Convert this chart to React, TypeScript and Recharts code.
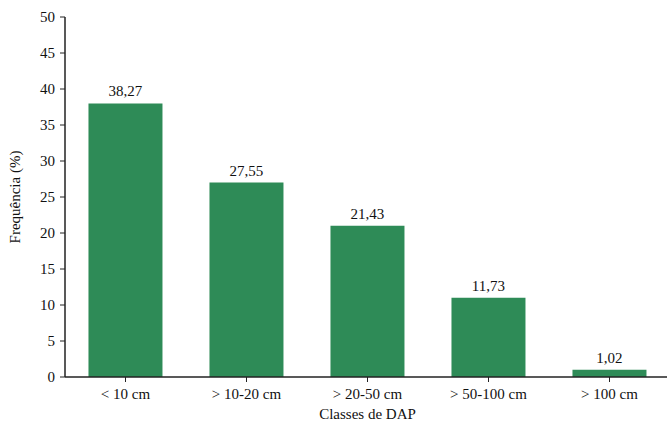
import React from "react";
import { BarChart, Bar, XAxis, YAxis, LabelList, Label } from "recharts";

const categories = ["< 10 cm", "> 10-20 cm", "> 20-50 cm", "> 50-100 cm", "> 100 cm"];
const barValues = [38, 27, 21, 11, 1];
const valueLabels = ["38,27", "27,55", "21,43", "11,73", "1,02"];
const yTicks = [0, 5, 10, 15, 20, 25, 30, 35, 40, 45, 50];

const data = categories.map((c, i) => ({ cat: c, value: barValues[i], label: valueLabels[i] }));

const FONT = "'Liberation Serif', 'Times New Roman', serif";
const AX = "#222";

export default function App() {
  return (
    <div style={{ position: "absolute", left: 0, top: 0, width: 667, height: 425, overflow: "hidden", background: "#fff" }}>
      <BarChart
        width={672}
        height={425}
        data={data}
        margin={{ top: 17, right: 2, bottom: 0, left: 0 }}
        barCategoryGap="19.4%"
        style={{ fontFamily: FONT }}
      >
        <XAxis
          dataKey="cat"
          height={48}
          stroke={AX}
          tickSize={5}
          tickMargin={6}
          tick={{ fill: "#111", fontSize: 15, fontFamily: FONT }}
          axisLine={{ stroke: AX, strokeWidth: 1.5 }}
        >
          <Label value="Classes de DAP" position="insideBottom" offset={6} style={{ fill: "#111", fontSize: 15, fontFamily: FONT }} />
        </XAxis>
        <YAxis
          width={65}
          domain={[0, 50]}
          ticks={yTicks}
          interval={0}
          stroke={AX}
          tickSize={5}
          tickMargin={5}
          tick={{ fill: "#111", fontSize: 15, fontFamily: FONT }}
          axisLine={{ stroke: AX, strokeWidth: 1.5 }}
        >
          <Label value="Frequência (%)" angle={-90} position="insideLeft" offset={15} style={{ textAnchor: "middle", fill: "#111", fontSize: 15, fontFamily: FONT }} />
        </YAxis>
        <Bar dataKey="value" fill="#2e8b57" isAnimationActive={false}>
          <LabelList dataKey="label" position="top" offset={7} style={{ fill: "#111", fontSize: 15, fontFamily: FONT }} />
        </Bar>
      </BarChart>
    </div>
  );
}
